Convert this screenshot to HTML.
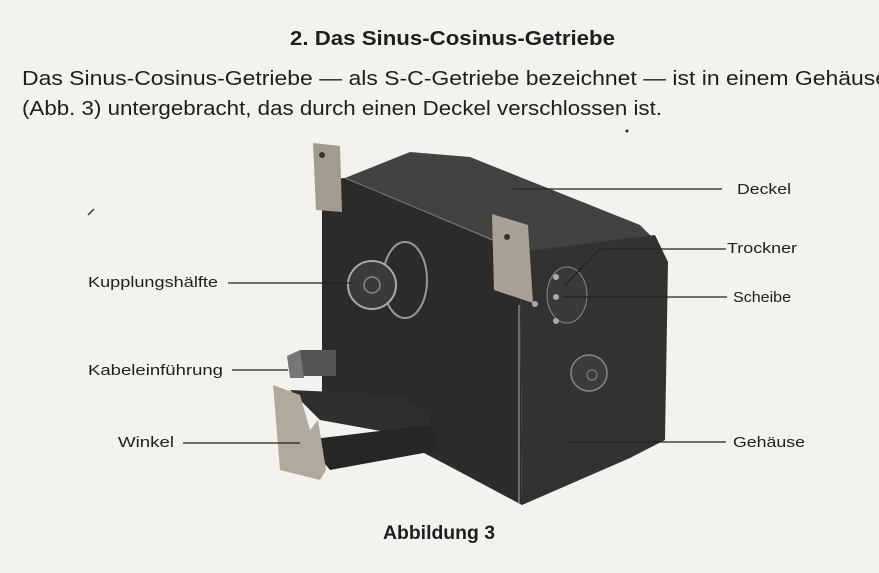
<!DOCTYPE html>
<html><head><meta charset="utf-8"><style>
html,body{margin:0;padding:0;background:#f4f2ed;}
svg{display:block}
text{font-family:"Liberation Sans Narrow","Liberation Sans",sans-serif;fill:#1e1e1e}
</style></head><body>
<svg width="879" height="573" viewBox="0 0 879 573" xmlns="http://www.w3.org/2000/svg">
<rect width="879" height="573" fill="#f4f2ed"/>
<text x="290" y="45" font-size="20" font-weight="bold" textLength="325" lengthAdjust="spacingAndGlyphs">2. Das Sinus-Cosinus-Getriebe</text>
<text x="22" y="85" font-size="20" textLength="866" lengthAdjust="spacingAndGlyphs">Das Sinus-Cosinus-Getriebe — als S-C-Getriebe bezeichnet — ist in einem Gehäuse</text>
<text x="22" y="115" font-size="20" textLength="640" lengthAdjust="spacingAndGlyphs">(Abb. 3) untergebracht, das durch einen Deckel verschlossen ist.</text>
<circle cx="627" cy="131" r="1.5" fill="#222"/>
<line x1="88" y1="215" x2="94" y2="209" stroke="#333" stroke-width="1.5"/>

<!-- box -->
<polygon points="345,178 410,152 470,157 640,225 660,245 520,252 493,240" fill="#424240"/>
<polygon points="322,180 345,178 520,252 522,505 447,465 322,400" fill="#2b2b2a"/>
<polygon points="520,252 655,235 668,262 665,440 630,458 522,505" fill="#323231"/>
<line x1="345" y1="178" x2="493" y2="240" stroke="#777" stroke-width="1"/>
<line x1="519" y1="305" x2="519" y2="503" stroke="#999" stroke-width="1.2"/>
<!-- brackets -->
<polygon points="313,143 340,146 342,212 316,210" fill="#a29c90"/>
<polygon points="492,214 528,225 533,303 494,290" fill="#a8a296"/>
<circle cx="322" cy="155" r="3" fill="#333"/>
<circle cx="507" cy="237" r="3" fill="#333"/>
<!-- coupling -->
<ellipse cx="405" cy="280" rx="22" ry="38" fill="none" stroke="#999" stroke-width="2"/>
<circle cx="372" cy="285" r="24" fill="#3a3a38" stroke="#aaa" stroke-width="2"/>
<circle cx="372" cy="285" r="8" fill="none" stroke="#888" stroke-width="1.5"/>
<!-- Scheibe -->
<ellipse cx="567" cy="295" rx="20" ry="28" fill="#3a3a38" stroke="#888" stroke-width="1"/>
<circle cx="556" cy="277" r="3" fill="#aaa"/><circle cx="556" cy="297" r="3" fill="#aaa"/>
<circle cx="556" cy="321" r="3" fill="#aaa"/><circle cx="535" cy="304" r="3" fill="#aaa"/>
<!-- knob -->
<circle cx="589" cy="373" r="18" fill="#3c3c3a" stroke="#888" stroke-width="1.5"/>
<circle cx="592" cy="375" r="5" fill="none" stroke="#888"/>
<!-- cable gland -->
<rect x="300" y="350" width="36" height="26" fill="#555"/>
<polygon points="287,356 300,350 304,378 290,378" fill="#777"/>
<!-- Winkel -->
<polygon points="290,390 400,395 430,415 430,440 320,420" fill="#2f2f2e"/>
<polygon points="305,440 430,425 440,450 330,470" fill="#262625"/>
<polygon points="273,385 300,395 310,430 318,420 326,470 320,480 280,470" fill="#b0aa9e"/>
<!-- leader lines -->
<g stroke="#222" stroke-width="1.3">
<line x1="513" y1="189" x2="722" y2="189"/>
<line x1="565" y1="285" x2="600" y2="249"/><line x1="600" y1="249" x2="726" y2="249"/>
<line x1="563" y1="297" x2="727" y2="297"/>
<line x1="570" y1="442" x2="726" y2="442"/>
<line x1="228" y1="283" x2="352" y2="283"/>
<line x1="232" y1="370" x2="288" y2="370"/>
<line x1="183" y1="443" x2="300" y2="443"/>
</g>
<g font-size="15">
<text x="737" y="194" textLength="54" lengthAdjust="spacingAndGlyphs">Deckel</text>
<text x="727" y="253" textLength="70" lengthAdjust="spacingAndGlyphs">Trockner</text>
<text x="733" y="302" textLength="58" lengthAdjust="spacingAndGlyphs">Scheibe</text>
<text x="733" y="447" textLength="72" lengthAdjust="spacingAndGlyphs">Gehäuse</text>
<text x="88" y="287" textLength="130" lengthAdjust="spacingAndGlyphs">Kupplungshälfte</text>
<text x="88" y="375" textLength="135" lengthAdjust="spacingAndGlyphs">Kabeleinführung</text>
<text x="118" y="447" textLength="56" lengthAdjust="spacingAndGlyphs">Winkel</text>
</g>
<text x="383" y="539" font-size="19" font-weight="bold" textLength="112" lengthAdjust="spacingAndGlyphs">Abbildung 3</text>
</svg>
</body></html>
